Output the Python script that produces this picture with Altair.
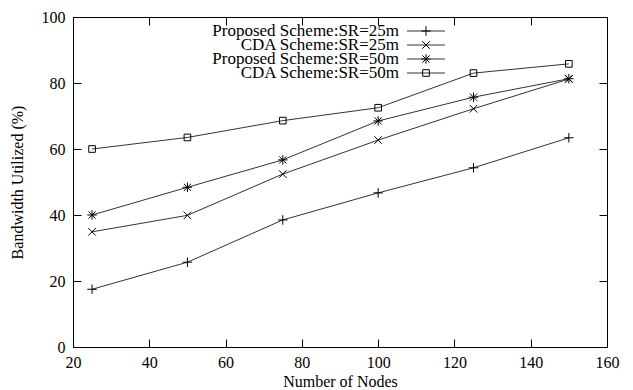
import altair as alt
import pandas as pd

nodes = [25, 50, 75, 100, 125, 150]
series_names = [
    "Proposed Scheme:SR=25m",
    "CDA Scheme:SR=25m",
    "Proposed Scheme:SR=50m",
    "CDA Scheme:SR=50m",
]
prop25 = [17.5, 25.7, 38.5, 46.7, 54.3, 63.4]
cda25 = [34.9, 39.9, 52.4, 62.7, 72.2, 81.2]
prop50 = [40.0, 48.4, 56.7, 68.5, 75.7, 81.3]
cda50 = [60.0, 63.5, 68.6, 72.5, 83.0, 85.8]
x_ticks = [20, 40, 60, 80, 100, 120, 140, 160]
y_ticks = [0, 20, 40, 60, 80, 100]

PLUS = "M-1,0H1M0,-1V1"
XMARK = "M-0.8,-0.8L0.8,0.8M-0.8,0.8L0.8,-0.8"
STAR = "M-1,0H1M0,-1V1M-0.75,-0.75L0.75,0.75M-0.75,0.75L0.75,-0.75"
SQUARE = "M-0.7,-0.7H0.7V0.7H-0.7Z"
shapes = [PLUS, XMARK, STAR, SQUARE]

rows = []
for name, vals in zip(series_names, [prop25, cda25, prop50, cda50]):
    for n, v in zip(nodes, vals):
        rows.append({"series": name, "nodes": n, "value": v})
df = pd.DataFrame(rows)

W, H = 534, 330
FONT = "Liberation Serif"
xscale = alt.Scale(domain=[20, 160], nice=False, zero=False)
yscale = alt.Scale(domain=[0, 100], nice=False)

TXT = dict(labelFont=FONT, labelFontSize=16, labelColor="black",
           titleFont=FONT, titleFontSize=16, titleColor="black", titleFontWeight="normal")

base = alt.Chart(df)

lines = base.mark_line(color="#333333", strokeWidth=1).encode(
    x=alt.X("nodes:Q", scale=xscale, axis=alt.Axis(
        orient="bottom", values=x_ticks, title="Number of Nodes", ticks=False, tickSize=0,
        domain=False, grid=False, labelPadding=7, labelFlush=False,
        titleX=W / 2, titleY=34, titleBaseline="middle", **TXT)),
    y=alt.Y("value:Q", scale=yscale, axis=alt.Axis(
        orient="left", values=y_ticks, title="Bandwidth Utilized (%)", ticks=False, tickSize=0,
        domain=False, grid=False, labelPadding=8, labelFlush=False,
        titleX=-56, titleY=H / 2, titleBaseline="middle", titleAngle=270, **TXT)),
    detail="series:N",
)

points = base.mark_point(filled=False, strokeWidth=1, color="black", size=90, opacity=1).encode(
    x=alt.X("nodes:Q", scale=xscale, axis=alt.Axis(
        orient="top", offset=-H, values=x_ticks, labels=False, title=None,
        ticks=True, tickSize=8, domain=False, grid=False, tickColor="black")),
    y=alt.Y("value:Q", scale=yscale, axis=alt.Axis(
        orient="right", offset=-W, values=y_ticks, labels=False, title=None,
        ticks=True, tickSize=8, domain=False, grid=False, tickColor="black")),
    shape=alt.Shape("series:N", scale=alt.Scale(domain=series_names, range=shapes), legend=None),
)

ghost = base.mark_line(opacity=0).encode(
    x=alt.X("nodes:Q", scale=xscale, axis=alt.Axis(
        orient="bottom", offset=-H, values=x_ticks, labels=False, title=None,
        ticks=True, tickSize=8, domain=False, grid=False, tickColor="black")),
    y=alt.Y("value:Q", scale=yscale, axis=alt.Axis(
        orient="left", offset=-W, values=y_ticks, labels=False, title=None,
        ticks=True, tickSize=8, domain=False, grid=False, tickColor="black")),
    detail="series:N",
)

legend_layers = []
TEXT_X, LINE_X1, LINE_X2, MARK_X = 326, 334, 372, 353
for i, (name, shp) in enumerate(zip(series_names, shapes)):
    ly = 14 + 14 * i
    ldf = pd.DataFrame({"label": [name]})
    lc = alt.Chart(ldf)
    legend_layers.append(
        lc.mark_text(align="right", baseline="middle", font=FONT, fontSize=17, color="black").encode(
            text="label:N", x=alt.value(TEXT_X), y=alt.value(ly))
    )
    legend_layers.append(
        lc.mark_rule(color="#333333", strokeWidth=1).encode(
            x=alt.value(LINE_X1), x2=alt.value(LINE_X2), y=alt.value(ly))
    )
    legend_layers.append(
        lc.mark_point(filled=False, strokeWidth=1, color="black", size=90, shape=shp, opacity=1).encode(
            x=alt.value(MARK_X), y=alt.value(ly))
    )

chart = alt.layer(lines, points, ghost, *legend_layers).resolve_axis(
    x="independent", y="independent"
).properties(
    width=W, height=H,
    background="white",
    autosize=alt.AutoSizeParams(type="none"),
    padding={"left": 73, "top": 17, "right": 26, "bottom": 43},
).configure_view(
    stroke="black", strokeWidth=1
)

chart.save("out.html", embed_options={"renderer": "svg", "actions": False})
